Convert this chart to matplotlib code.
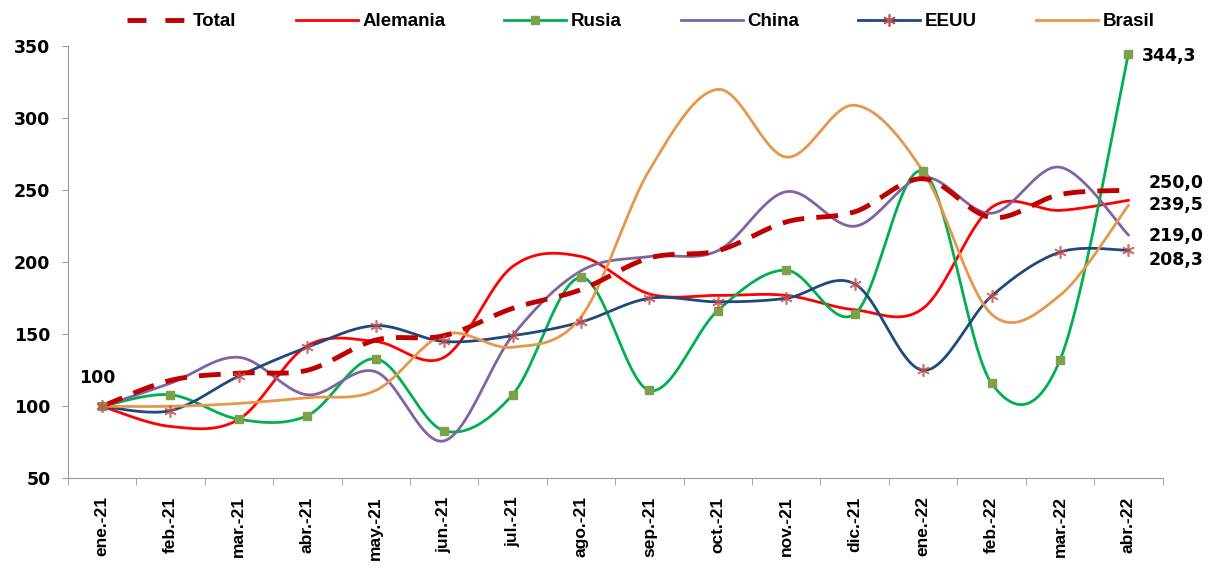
import matplotlib

matplotlib.use("Agg")

import matplotlib.pyplot as plt
import numpy as np
from matplotlib.lines import Line2D

plt.rcParams["font.family"] = ["Liberation Sans", "DejaVu Sans"]
plt.rcParams["font.weight"] = "bold"

MONTHS = ["ene.-21", "feb.-21", "mar.-21", "abr.-21", "may.-21", "jun.-21", "jul.-21", "ago.-21",
          "sep.-21", "oct.-21", "nov.-21", "dic.-21", "ene.-22", "feb.-22", "mar.-22", "abr.-22"]

total = [100, 118, 123, 125, 146, 149, 168, 181, 203, 208, 228, 235, 258, 231, 247, 250.0]
alemania = [100, 86, 91, 142, 145, 134, 197, 204, 178, 177, 177, 167, 168, 238, 236, 243]
rusia = [100, 108, 91, 93.5, 133, 83, 108, 189.5, 111, 166.5, 194.5, 164, 263, 116, 132, 344.3]
china = [100, 116, 134, 108, 124, 76, 149, 194, 204, 208, 249, 225, 259, 234, 266, 219.0]
eeuu = [100, 97, 121, 141, 156, 145, 149, 158.5, 175, 172.5, 175, 185, 125, 176.5, 207, 208.3]
brasil = [100, 100, 102, 106, 111, 150, 141, 162, 264, 320, 273, 309, 263, 164, 177, 239.5]

end_labels = ["344,3", "250,0", "239,5", "219,0", "208,3"]
label_y = [343, 255, 239.5, 218, 201.5]

NUM_FONT = "DejaVu Sans"


def smooth(values, steps=24):
    # Excel-style smoothed line: Catmull-Rom segments written as cubic Beziers
    pts = np.column_stack([np.arange(len(values), dtype=float), np.asarray(values, dtype=float)])
    padded = np.vstack([pts[0], pts, pts[-1]])
    t = np.linspace(0, 1, steps)[:, None]
    out = []
    for i in range(len(pts) - 1):
        p0, p1, p2, p3 = padded[i], padded[i + 1], padded[i + 2], padded[i + 3]
        b1 = p1 + (p2 - p0) / 6
        b2 = p2 - (p3 - p1) / 6
        seg = (1 - t) ** 3 * p1 + 3 * (1 - t) ** 2 * t * b1 + 3 * (1 - t) * t ** 2 * b2 + t ** 3 * p2
        out.append(seg if i == 0 else seg[1:])
    curve = np.vstack(out)
    return curve[:, 0], curve[:, 1]


fig = plt.figure(figsize=(12.11, 5.77), dpi=100)
ax = fig.add_axes([0.056, 0.171, 0.904, 0.749])

x = np.arange(len(MONTHS))

series = [
    ("Alemania", alemania, "#FF0000", None),
    ("Rusia", rusia, "#00B050", "s"),
    ("China", china, "#8064A2", None),
    ("EEUU", eeuu, "#1F497D", "*"),
    ("Brasil", brasil, "#E8964A", None),
]

handles = []
sx, sy = smooth(total)
ax.plot(sx, sy, color="#C00000", lw=3.5, dashes=(4.5, 2.5), zorder=3)
handles.append(Line2D([], [], color="#C00000", lw=3.5, dashes=(3.9, 3.9), label="Total"))

for name, vals, color, marker in series:
    sx, sy = smooth(vals)
    ax.plot(sx, sy, color=color, lw=2, zorder=2)
    if marker == "s":
        ax.plot(x, vals, ls="none", marker="s", ms=6, color="#7FA04A", zorder=4)
        handles.append(Line2D([], [], color=color, lw=2, marker="s", ms=6,
                              markerfacecolor="#7FA04A", markeredgecolor="#7FA04A", label=name))
    elif marker == "*":
        ax.plot(x, vals, ls="none", marker=(6, 2, 0), ms=9, mew=1.2, color="#C0504D", alpha=0.8, zorder=4)
        handles.append(Line2D([], [], color=color, lw=2, marker=(6, 2, 0), ms=9, mew=1.2,
                              markeredgecolor="#C0504D", label=name))
    else:
        handles.append(Line2D([], [], color=color, lw=2, label=name))

ax.set_xlim(-0.5, len(MONTHS) - 0.5)
ax.set_ylim(50, 350)
ax.set_yticks(np.arange(50, 351, 50))
ax.set_xticks(x)
ax.set_xticklabels(MONTHS, rotation=90, fontsize=12.5, fontweight="bold")
ax.set_xticks(np.arange(-0.5, len(MONTHS), 1), minor=True)
ax.tick_params(axis="x", which="major", length=0, pad=13)
ax.tick_params(axis="x", which="minor", length=5, color="#999999")
ax.tick_params(axis="y", length=4.5, color="#999999", pad=8)
for lab in ax.get_yticklabels():
    lab.set_fontweight("bold")
    lab.set_fontfamily(NUM_FONT)
    lab.set_fontsize(12.5)

for side in ["top", "right"]:
    ax.spines[side].set_visible(False)
for side in ["left", "bottom"]:
    ax.spines[side].set_color("#999999")

ax.text(0.2, 119.5, "100", fontsize=12.5, fontweight="bold", family=NUM_FONT, ha="right", va="center")
for text, ly in zip(end_labels, label_y):
    xpos = len(MONTHS) - 1 + (0.2 if text == "344,3" else 0.29)
    ax.text(xpos, ly, text, fontsize=12.5, fontweight="bold", family=NUM_FONT,
            ha="left", va="center", clip_on=False)

fig.legend(handles=handles, loc="upper center", bbox_to_anchor=(0.529, 1.0), ncol=6, frameon=False,
           handlelength=3.3, handletextpad=0.25, columnspacing=3.15, borderaxespad=0.3,
           prop={"size": 13.5, "weight": "bold"})

fig.savefig("out.png", dpi=100)
